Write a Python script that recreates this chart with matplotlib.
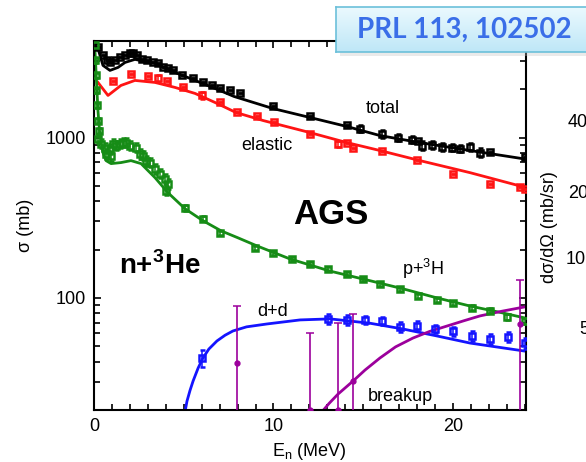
import numpy as np
import matplotlib
matplotlib.use("Agg")
import matplotlib.pyplot as plt

plt.rcParams['font.family'] = ['Liberation Sans', 'DejaVu Sans']
plt.rcParams['mathtext.fontset'] = 'custom'
plt.rcParams['mathtext.rm'] = 'Liberation Sans'
plt.rcParams['mathtext.bf'] = 'Liberation Sans:bold'

# total cross section (black)
tot_E = [0.22, 0.5, 0.72, 0.89, 1.17, 1.45, 1.73, 2.01, 2.17, 2.40, 2.67, 2.95, 3.29, 3.57,
         3.84, 4.12, 4.40, 4.90, 5.52, 6.07, 6.57, 7.02, 7.58, 8.13, 9.97, 12.03, 14.09,
         14.82, 16.04, 16.94, 17.72, 18.05, 18.27, 18.83, 19.39, 19.94, 20.39, 20.95, 21.50,
         22.06, 24.0]
tot_s = [3650, 3255, 3030, 2940, 3030, 3160, 3255, 3350, 3350, 3255, 3073, 3030, 2940, 2900,
         2740, 2700, 2620, 2440, 2340, 2207, 2113, 2024, 1968, 1884, 1562, 1353, 1189,
         1138, 1059, 1000, 972, 958, 891, 904, 879, 866, 853, 879, 805, 818, 761]
tot_err = [0, 0, 0, 0, 0, 0, 0, 0, 0, 0, 0, 0, 0, 0, 0, 0, 0, 0, 0, 0, 0, 0, 0, 0, 0, 0, 0,
           60, 60, 50, 50, 0, 55, 50, 50, 45, 45, 50, 50, 0, 0]
tot_curve_E = [0.0, 0.22, 0.5, 0.89, 1.34, 1.73, 2.28, 3.40, 4.51, 5.63, 6.74, 7.80, 9.97,
               12.03, 14.09, 15.93, 18.16, 20.95, 24.0]
tot_curve_s = [3760, 3597, 2818, 2622, 2738, 2941, 3072, 2901, 2548, 2271, 2024, 1804, 1517,
               1334, 1172, 1029, 930, 830, 735]

# elastic (red)
el_E = [1.06, 2.06, 3.01, 3.57, 4.07, 4.96, 6.02, 7.02, 7.97, 9.08, 10.03, 12.03, 13.59,
        14.09, 14.43, 16.04, 18.0, 20.0, 22.06, 23.73, 24.0]
el_s = [2239, 2477, 2405, 2337, 2239, 2054, 1830, 1655, 1433, 1372, 1259, 1059, 917,
        930, 866, 830, 729, 596, 516, 494, 480]
el_err = [0, 0, 0, 120, 0, 0, 90, 0, 0, 0, 0, 0, 40, 0, 0, 0, 0, 0, 0, 0, 0]
el_curve_E = [0.22, 0.78, 1.50, 2.28, 3.40, 4.51, 5.63, 6.74, 7.91, 9.42, 12.03, 14.09,
              15.93, 18.16, 20.95, 24.0]
el_curve_s = [2206, 1830, 2113, 2271, 2206, 2054, 1884, 1655, 1433, 1277, 1074, 930,
              830, 718, 604, 490]

# p + 3H (green)
pt_E = [0.06, 0.06, 0.11, 0.11, 0.17, 0.22, 0.28, 0.22, 0.39, 0.61, 0.67, 0.89, 0.95, 1.06,
        1.23, 1.45, 1.62, 1.78, 2.01, 2.34, 2.56, 2.73, 2.90, 3.12, 3.40, 3.68, 3.96, 4.12,
        4.01, 5.07, 6.07, 7.02, 8.97, 9.97, 11.03, 12.03, 13.04, 14.09, 14.99, 15.93, 17.05,
        18.05, 19.11, 20.0, 21.06, 22.06, 23.0, 24.0]
pt_s = [3758, 3030, 2441, 1966, 1585, 1277, 1106, 986, 917, 866, 794, 853, 772, 917,
        891, 917, 930, 930, 891, 866, 794, 772, 718, 698, 640, 596, 554, 516,
        467, 365, 312, 255, 205, 191, 175, 163, 152, 141, 131, 122, 114,
        103, 97, 93, 87, 83, 76, 72]
pt_err = [150, 120, 100, 80, 60, 50, 45, 60, 60, 60, 55, 60, 55, 60,
          60, 60, 60, 60, 60, 55, 55, 50, 50, 45, 45, 40, 40, 35,
          30, 15, 10, 8, 6, 5, 4, 4, 4, 4, 4, 3, 3,
          3, 3, 3, 3, 3, 3, 3]
pt_curve_E = [0.03, 0.11, 0.22, 0.33, 0.5, 0.67, 0.95, 1.50, 2.06, 2.62, 3.40, 4.12, 5.07,
              6.07, 7.08, 8.02, 9.08, 10.92, 13.15, 15.38, 17.21, 19.11, 20.95, 22.79, 24.0]
pt_curve_s = [3925, 2622, 1475, 1029, 805, 718, 688, 698, 718, 688, 562, 453, 360,
              303, 262, 237, 211, 175, 147, 128, 114, 100, 89, 80.5, 75]

# d + d (blue)
dd_E = [6.02, 13.04, 14.09, 15.10, 16.04, 17.05, 18.0, 19.0, 20.0, 21.06, 22.06, 23.06, 24.0]
dd_s = [42, 74, 72.9, 72.9, 71.8, 65.9, 66.8, 64, 62.2, 57.9, 55.4, 57, 52.3]
dd_err = [5, 5, 5, 4.5, 4.5, 4.5, 4.5, 4, 4, 4, 4, 4, 4]
dd_curve_E = [5.07, 5.18, 5.35, 5.52, 5.8, 6.07, 6.4, 6.85, 7.3, 7.74, 8.5, 9.64, 11.48,
              13.15, 15.38, 17.21, 19.11, 20.95, 24.0]
dd_curve_s = [19.5, 22.7, 26.5, 30.3, 36.5, 42.2, 48, 53.9, 58.5, 62.2, 66, 68.8, 72.9,
              74, 69.5, 64, 57.9, 52.3, 46.6]

# breakup (purple)
bu_E = [7.97, 12.03, 13.59, 14.43, 23.73]
bu_s = [39.3, 20, 20, 30.3, 68.8]
bu_err_lo = [38, 19, 19, 29, 67]
bu_err_hi = [50, 40, 50, 49, 61]
bu_curve_E = [12.70, 13.1, 13.59, 14.43, 15.1, 15.93, 16.8, 17.77, 18.7, 19.67, 20.6,
              21.50, 22.7, 24.0]
bu_curve_s = [19.5, 22.0, 25.1, 30.3, 35.5, 42.2, 49.5, 56.2, 61.8, 66.8, 72, 77.2, 82.5,
              87.9]

black = '#000000'
red = '#ff1414'
green = '#168c16'
blue = '#1414ff'
purple = '#9c009c'

fig = plt.figure(figsize=(5.86, 4.62), dpi=100)
ax = fig.add_axes([94 / 586, 52 / 462, 431.5 / 586, 369 / 462])


def data_pts(E, s, err, c):
    e = np.array(err, dtype=float)
    ax.errorbar(E, s, yerr=[np.minimum(e, np.array(s) * 0.9), e], fmt='s', color=c,
                ms=3.8, mfc='none', mew=1.8, elinewidth=1.1, capsize=1.8, capthick=1.1,
                zorder=3)


ax.plot(tot_curve_E, tot_curve_s, color=black, lw=2.0, zorder=2)
ax.plot(el_curve_E, el_curve_s, color=red, lw=2.0, zorder=2)
ax.plot(pt_curve_E, pt_curve_s, color=green, lw=2.0, zorder=2)
ax.plot(dd_curve_E, dd_curve_s, color=blue, lw=2.0, zorder=2)
ax.plot(bu_curve_E, bu_curve_s, color=purple, lw=2.0, zorder=2)

data_pts(tot_E, tot_s, tot_err, black)
data_pts(el_E, el_s, el_err, red)
data_pts(pt_E, pt_s, pt_err, green)
data_pts(dd_E, dd_s, dd_err, blue)
ax.errorbar(bu_E, bu_s, yerr=[bu_err_lo, bu_err_hi], fmt='o', color=purple, ms=3.5,
            elinewidth=1.2, capsize=3, capthick=1.1, zorder=3)

ax.set_yscale('log')
ax.set_xlim(0, 24.04)
ax.set_ylim(20, 4000)
ax.set_xticks([0, 10, 20])
ax.set_xticks(np.arange(0, 25, 1), minor=True)
ax.set_yticks([100, 1000])
ax.set_yticklabels(['100', '1000'])
ax.tick_params(which='both', direction='in', top=True, right=True, labelsize=13,
               width=1.2, pad=6)
ax.tick_params(which='major', length=5)
ax.tick_params(which='minor', length=4)
for sp in ax.spines.values():
    sp.set_linewidth(1.5)

ax.set_xlabel('E$_\\mathrm{n}$ (MeV)', fontsize=13, labelpad=4)
ax.set_ylabel('σ (mb)', fontsize=13, labelpad=8)

ax.text(16.1, 1517, 'total', fontsize=13, ha='center', va='center')
ax.text(9.64, 891, 'elastic', fontsize=13, ha='center', va='center')
ax.text(18.3, 151, 'p+$^{3}$H', fontsize=13, ha='center', va='center')
ax.text(9.97, 81.8, 'd+d', fontsize=13, ha='center', va='center')
ax.text(17.05, 24.4, 'breakup', fontsize=13, ha='center', va='center')
ax.text(13.2, 331, 'AGS', fontsize=25, fontweight='bold', ha='center', va='center')
ax.text(3.68, 158, 'n+$^{\\mathbf{3}}$He', fontsize=20, fontweight='bold', ha='center',
        va='center')

# partial neighbouring panel on the right (cut by the image edge, as in the slide)
fig.text(550 / 586, 1 - 227 / 462, 'dσ/dΩ (mb/sr)', fontsize=13, rotation=90,
         ha='center', va='center')
for lab, yy, xx in [('40', 123, 568), ('20', 193, 568), ('10', 260, 566), ('5', 330, 579)]:
    fig.text(xx / 586, 1 - yy / 462, lab, fontsize=13, ha='left', va='center')

# reference box
shadow = fig.add_axes([340 / 586, 1 - 56 / 462, 260 / 586, 45 / 462])
shadow.set_facecolor('#c4c4c4')
shadow.patch.set_alpha(0.35)
shadow.set_xticks([])
shadow.set_yticks([])
for sp in shadow.spines.values():
    sp.set_visible(False)

box = fig.add_axes([336 / 586, 1 - 52 / 462, 260 / 586, 45 / 462])
grad = np.linspace(0, 1, 50).reshape(-1, 1)
box.imshow(grad, aspect='auto', extent=[0, 1, 0, 1],
           cmap=matplotlib.colors.LinearSegmentedColormap.from_list('g', ['#eaf9fe', '#bfe7f7']))
box.set_xticks([])
box.set_yticks([])
for sp in box.spines.values():
    sp.set_color('#6cc0da')
    sp.set_linewidth(1.2)
box.text(464 / 586, 1 - 30 / 462, 'PRL 113, 102502', transform=fig.transFigure,
         fontsize=20, fontweight='bold', color='#3a6ee8', ha='center', va='center',
         family=['Lato', 'DejaVu Sans'])

fig.savefig('out.png', dpi=100)
